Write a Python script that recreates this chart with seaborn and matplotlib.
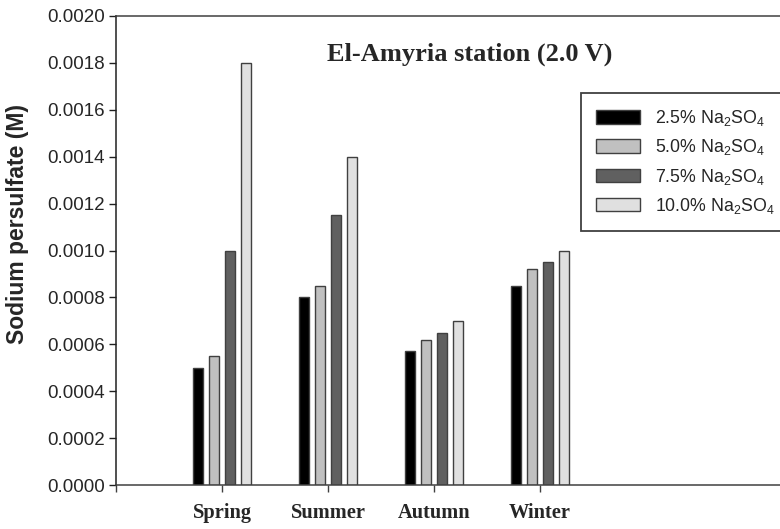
import matplotlib
matplotlib.use("Agg")
import matplotlib.pyplot as plt
import seaborn as sns
import pandas as pd

seasons = ["Spring", "Summer", "Autumn", "Winter"]
series = ["2.5% Na$_2$SO$_4$", "5.0% Na$_2$SO$_4$", "7.5% Na$_2$SO$_4$", "10.0% Na$_2$SO$_4$"]
v_25 = [0.00050, 0.00080, 0.00057, 0.00085]
v_50 = [0.00055, 0.00085, 0.00062, 0.00092]
v_75 = [0.00100, 0.00115, 0.00065, 0.00095]
v_100 = [0.00180, 0.00140, 0.00070, 0.00100]
yticks = [0.0000, 0.0002, 0.0004, 0.0006, 0.0008, 0.0010, 0.0012, 0.0014, 0.0016, 0.0018, 0.0020]
colors = ["#000000", "#c0c0c0", "#606060", "#e0e0e0"]

rows = []
for s, vals in zip(series, [v_25, v_50, v_75, v_100]):
    for season, v in zip(seasons, vals):
        rows.append({"season": season, "series": s, "value": v})
df = pd.DataFrame(rows)

sns.set_style("ticks")
plt.rcParams["font.family"] = ["Liberation Sans", "DejaVu Sans"]
plt.rcParams["mathtext.fontset"] = "custom"
plt.rcParams["mathtext.rm"] = "Liberation Sans"
plt.rcParams["mathtext.it"] = "Liberation Sans:italic"

fig = plt.figure(figsize=(7.8, 5.29), dpi=100)
ax = fig.add_axes([116 / 780, 1 - 485 / 529, 1 - 116 / 780, (485 - 16) / 529])

sns.barplot(data=df, x="season", y="value", hue="series", order=seasons,
            hue_order=series, palette=colors, width=0.6, gap=0.37,
            edgecolor="#404040", linewidth=1.0, ax=ax, legend=True)

ax.set_xlim(-1, -1 + (780 - 116) / 106)
ax.set_ylim(0, 0.0020)
ax.set_yticks(yticks)
ax.set_yticklabels([f"{t:.4f}" for t in yticks], fontsize=13.5)
ax.set_xticks([-1, 0, 1, 2, 3])
ax.set_xticklabels([""] + seasons, fontsize=14.7, fontweight="bold",
                   family=["Liberation Serif", "DejaVu Serif"])
ax.tick_params(axis="x", length=5, width=1, color="#404040", pad=8)
ax.tick_params(axis="y", length=5, width=1, color="#202020", pad=3)
ax.set_xlabel("")
ax.set_ylabel("Sodium persulfate (M)", fontsize=16.5, fontweight="bold")
ax.yaxis.set_label_coords((29 - 116) / 664, (485 - 224) / 469)

for side in ["left", "bottom", "top"]:
    ax.spines[side].set_visible(True)
    ax.spines[side].set_linewidth(1.1)
ax.spines["left"].set_color("#202020")
ax.spines["bottom"].set_color("#404040")
ax.spines["top"].set_color("#404040")
ax.spines["right"].set_visible(False)

ax.text(470 / 780, 1 - 54 / 529, "El-Amyria station (2.0 V)", transform=fig.transFigure,
        ha="center", va="center", fontsize=19, fontweight="bold",
        family=["Liberation Serif", "DejaVu Serif"])

handles, labels = ax.get_legend_handles_labels()
ax.legend(handles, labels, loc="upper left",
          bbox_to_anchor=(581 / 780, 1 - 93 / 529), bbox_transform=fig.transFigure,
          fontsize=12.8, frameon=True, fancybox=False, shadow=False,
          edgecolor="#404040", framealpha=1, handlelength=2.47, handleheight=0.79,
          labelspacing=0.52, handletextpad=0.85, borderpad=0.85, borderaxespad=0)
ax.get_legend().get_frame().set_linewidth(1.3)

fig.savefig("out.png", dpi=100)
